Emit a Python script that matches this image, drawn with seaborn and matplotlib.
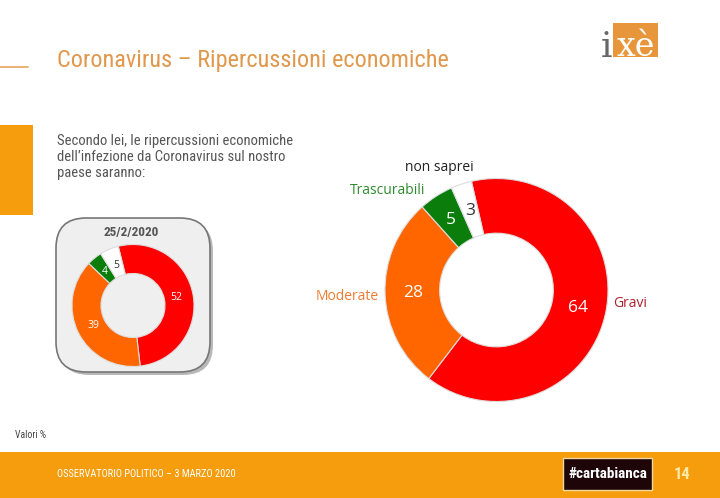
import matplotlib
matplotlib.use("Agg")
import matplotlib.pyplot as plt
import seaborn as sns
from matplotlib import font_manager
from matplotlib.patches import Rectangle, FancyBboxPatch
import numpy as np

# ---- data ----
categories = ["Gravi", "Moderate", "Trascurabili", "non saprei"]
values_now = [64, 28, 5, 3]
values_prev = [52, 39, 4, 5]
colors = ["#FF0000", "#FF6600", "#0A7D0A", "#FFFFFF"]
label_colors = ["#B0202A", "#F07A30", "#2E8B2E", "#222222"]
value_text_colors = ["white", "white", "white", "#333333"]
prev_date = "25/2/2020"
title = "Coronavirus \u2013 Ripercussioni economiche"
question = "Secondo lei, le ripercussioni economiche\ndell\u2019infezione da Coronavirus sul nostro\npaese saranno:"
footer = "OSSERVATORIO POLITICO \u2013 3 MARZO 2020"
page = "14"

sns.set_theme(style="white")
avail = {f.name for f in font_manager.fontManager.ttflist}
cond = next((f for f in ["Liberation Sans Narrow", "DejaVu Sans Condensed", "Roboto Condensed", "Open Sans Condensed"] if f in avail), "Roboto")
body = "Open Sans" if "Open Sans" in avail else "DejaVu Sans"
plt.rcParams["font.family"] = [body, "DejaVu Sans"]

W, H = 720, 498
fig = plt.figure(figsize=(7.2, 4.98), dpi=100)
fig.patch.set_facecolor("white")

# overlay axes in pixel coords
ov = fig.add_axes([0, 0, 1, 1])
ov.set_xlim(0, W)
ov.set_ylim(H, 0)
ov.axis("off")

ORANGE = "#F59D0C"
ov.add_patch(Rectangle((0, 125), 33, 90, color=ORANGE, lw=0))
ov.plot([0, 28], [67, 67], color="#E8A35A", lw=1.2)
ov.text(57, 60, title, fontsize=17.5, color="#E0984C", family=cond, va="center", ha="left")
ov.text(57, 157, question, fontsize=10.5, color="#555555", family=cond, va="center", ha="left", linespacing=1.2)
ov.text(15, 435, "Valori %", fontsize=7, color="#444444", family=cond, va="center")

# logo
ov.add_patch(Rectangle((613, 23), 45, 34, color="#E8963C", lw=0))
ov.text(606, 47, "i", fontsize=26, color="#666666", family="DejaVu Serif", va="center", ha="center")
ov.text(636, 47, "x\u00e8", fontsize=24, color="white", family="DejaVu Serif", va="center", ha="center")

# footer
ov.add_patch(Rectangle((0, 452), W, H - 452, color=ORANGE, lw=0))
ov.text(57, 474, footer, fontsize=7.5, color="white", family=cond, va="center")
ov.add_patch(Rectangle((563, 458), 89, 32, facecolor="#1E0608", edgecolor="#F3D7A0", lw=1))
ov.text(607.5, 474, "#cartabianca", fontsize=11, color="white", family=cond, va="center", ha="center", weight="bold")
ov.text(682, 474, page, fontsize=12, color="#FFE9A8", family=cond, va="center", ha="center", weight="bold")

# small box
ov.add_patch(FancyBboxPatch((59, 221), 154, 154, boxstyle="round,pad=0,rounding_size=30",
                            facecolor="#8A8A8A", edgecolor="none", alpha=0.6))
ov.add_patch(FancyBboxPatch((56, 218), 154, 154, boxstyle="round,pad=0,rounding_size=30",
                            facecolor="#EFEFEF", edgecolor="#777777", lw=1.2))
ov.text(131, 232, prev_date, fontsize=9.5, color="#555555", family=cond, weight="bold", va="center", ha="center")


def donut(cx, cy, r, vals, width, pctd, fs, ring_ax_start):
    ax = fig.add_axes([(cx - r) / W, (H - cy - r) / H, 2 * r / W, 2 * r / H])
    ax.set_facecolor("none")
    wedges, _ = ax.pie(vals, colors=colors, startangle=ring_ax_start, counterclock=False,
                       radius=1, wedgeprops=dict(width=width, edgecolor="#DDDDDD", linewidth=0.8))
    for w, v, tc in zip(wedges, vals, value_text_colors):
        ang = np.deg2rad((w.theta1 + w.theta2) / 2)
        ax.text(pctd * np.cos(ang), pctd * np.sin(ang), str(v), color=tc, fontsize=fs,
                ha="center", va="center")
    ax.set_xlim(-1, 1)
    ax.set_ylim(-1, 1)
    ax.set_aspect("equal")
    ax.axis("off")
    return ax, wedges


# small donut
donut(133, 305.5, 61, values_prev, 0.475, 0.72, 7.5, 104)

# big donut
axb, wb = donut(496.5, 290, 111.5, values_now, 0.49, 0.75, 12.5, 103)
label_pos = {
    "Gravi": (1.05, -0.12, "left"),
    "Moderate": (-1.06, -0.06, "right"),
    "Trascurabili": (-0.64, 0.89, "right"),
    "non saprei": (-0.51, 1.10, "center"),
}
for cat, lc in zip(categories, label_colors):
    x, y, ha = label_pos[cat]
    axb.text(x, y, cat, color=lc, fontsize=10, ha=ha, va="center", clip_on=False)

fig.savefig("out.png", dpi=100)
